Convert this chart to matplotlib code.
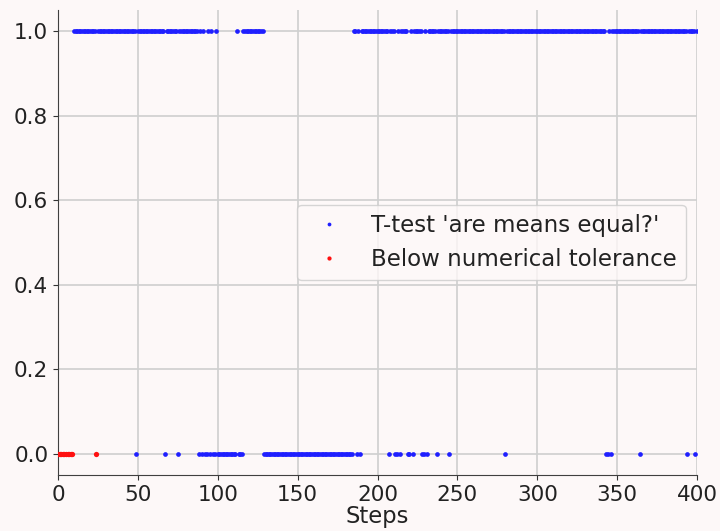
import numpy as np
import matplotlib.pyplot as plt

# steps where the t-test says the means differ (p below threshold)
steps = np.arange(0, 401)
zero_steps = [49, 67, 75, 88, 90, 92, 93, 95, 97, 98, 100, 101, 102, 103,
              104, 105, 106, 107, 108, 109, 110, 111, 113, 114, 115] + \
             list(range(129, 185)) + \
             [187, 189, 207, 211, 212, 214, 219, 220, 222, 228, 229, 231,
              237, 245, 280, 343, 344, 346, 364, 394, 399]
# steps where the variance was below numerical tolerance
tol_steps = list(range(0, 10)) + [24]

ttest = np.ones(len(steps))
ttest[zero_steps] = 0.0
mask = ~np.isin(steps, tol_steps)
tol_vals = np.zeros(len(tol_steps))

bg = '#fdf8f8'
fig = plt.figure(figsize=(7.2, 5.31), dpi=100, facecolor=bg)
ax = fig.add_axes([0.0806, 0.1055, 0.8875, 0.8755], facecolor=bg)

ax.plot(steps[mask], ttest[mask], 'o', color='#1f1fff', ms=3.4, mew=0,
        label="T-test 'are means equal?'", zorder=3)
ax.plot(tol_steps, tol_vals, 'o', color='#ff1010', ms=3.8, mew=0,
        label='Below numerical tolerance', zorder=3)

ax.set_xlim(0, 400)
ax.set_ylim(-0.05, 1.05)
ax.set_xticks(np.arange(0, 401, 50))
ax.set_yticks(np.arange(0, 1.01, 0.2))
ax.grid(True, color='#cfcfcf', lw=1.2)
ax.set_axisbelow(True)
for s in ['top', 'right']:
    ax.spines[s].set_visible(False)
ax.spines['left'].set_color('#404040')
ax.spines['bottom'].set_color('#404040')
ax.tick_params(labelsize=15.5, colors='#333333', labelcolor='#222222')
ax.set_xlabel('Steps', fontsize=16.3, color='#222222', labelpad=0)

leg = ax.legend(loc='center right', fontsize=16.5, markerscale=0.8,
                facecolor=bg, framealpha=0.8)
for t in leg.get_texts():
    t.set_color('#222222')

fig.savefig('out.png', dpi=100, facecolor=bg)
